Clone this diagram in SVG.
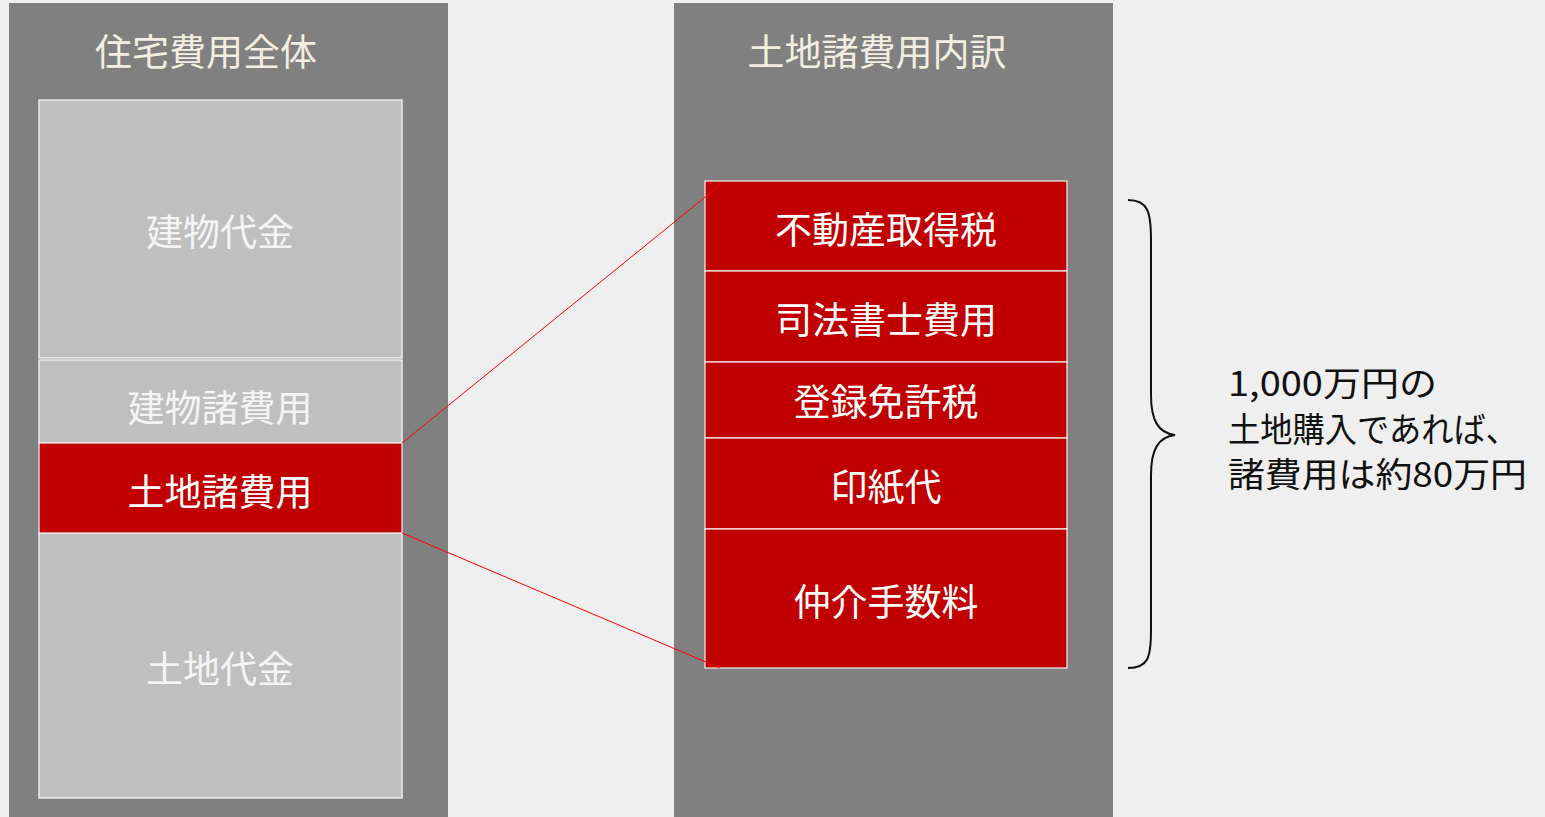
<svg xmlns="http://www.w3.org/2000/svg" width="1545" height="817" viewBox="0 0 1545 817">
<style>
text{font-family:"Noto Sans CJK JP","Noto Sans",sans-serif;font-size:37px;text-anchor:middle;dominant-baseline:central}
.panel{fill:#808080}
.title{fill:#f2efe2}
.gray{fill:#bfbfbf;stroke:#ececec;stroke-width:1.5}
.red{fill:#c00000;stroke:#f2f2f2;stroke-width:1.2}
.lg{fill:#f4f4f4}
.lw{fill:#ffffff}
.note{fill:#111;font-size:34px;text-anchor:start;dominant-baseline:alphabetic}
</style>
<rect width="1545" height="817" fill="#efefef"/>
<g id="panel-left"><rect class="panel" x="9" y="3" width="439" height="814"/><text class="title" x="206" y="50">住宅費用全体</text></g>
<g id="panel-right"><rect class="panel" x="674" y="3" width="439" height="814"/><text class="title" x="877" y="50">土地諸費用内訳</text></g>
<g id="tatemono-daikin"><rect class="gray" x="39" y="100" width="363" height="258"/><text class="lg" x="220" y="230">建物代金</text></g>
<g id="tatemono-shohiyo"><rect class="gray" x="39" y="360" width="363" height="83"/><text class="lg" x="220" y="406">建物諸費用</text></g>
<g id="tochi-daikin"><rect class="gray" x="39" y="533" width="363" height="265"/><text class="lg" x="220" y="667">土地代金</text></g>
<g id="tochi-shohiyo"><rect class="red" x="39" y="443" width="363" height="90" stroke="#f4b0b0"/><text class="lw" x="220" y="490">土地諸費用</text></g>
<g id="fudosan"><rect class="red" x="705" y="181" width="362" height="90"/><text class="lw" x="886" y="228">不動産取得税</text></g>
<g id="shiho"><rect class="red" x="705" y="271" width="362" height="91"/><text class="lw" x="886" y="318">司法書士費用</text></g>
<g id="toroku"><rect class="red" x="705" y="362" width="362" height="76"/><text class="lw" x="886" y="400">登録免許税</text></g>
<g id="inshi"><rect class="red" x="705" y="438" width="362" height="91"/><text class="lw" x="886" y="485">印紙代</text></g>
<g id="chukai"><rect class="red" x="705" y="529" width="362" height="139"/><text class="lw" x="886" y="600">仲介手数料</text></g>
<g id="connectors" fill="none">
<line x1="402" y1="443" x2="720" y2="185" stroke="#ff0000" stroke-width="1"/>
<line x1="402" y1="533" x2="720" y2="668" stroke="#ff0000" stroke-width="1"/>
<path d="M1128,200 C1148,200 1151,212 1151,240 L1151,395 C1151,420 1158,433 1175,435 C1158,437 1151,450 1151,475 L1151,630 C1151,658 1148,668 1128,668" stroke="#111" stroke-width="2"/>
</g>
<g id="note"><text class="note" x="1228" y="396" textLength="209" lengthAdjust="spacingAndGlyphs">1,000万円の</text><text class="note" x="1228" y="442" textLength="290" lengthAdjust="spacingAndGlyphs">土地購入であれば、</text><text class="note" x="1228" y="487" textLength="299" lengthAdjust="spacingAndGlyphs">諸費用は約80万円</text></g>
</svg>
